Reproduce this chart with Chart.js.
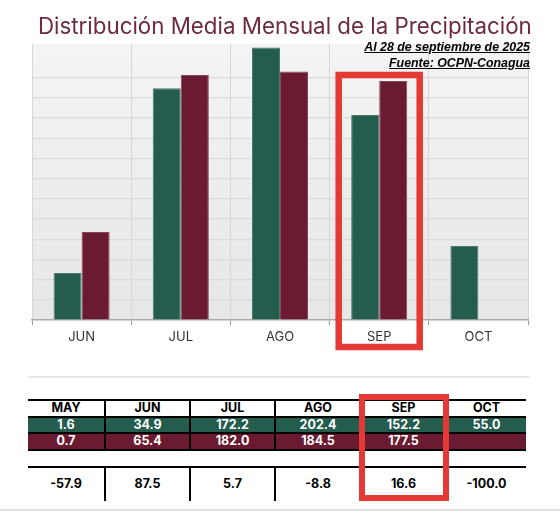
<!DOCTYPE html>
<html><head><meta charset="utf-8">
<script src="https://cdn.jsdelivr.net/npm/chart.js@4"></script>
<style>
html,body{margin:0;padding:0;background:#fff;}
body{width:560px;height:511px;position:relative;overflow:hidden;font-family:Inter,'Noto Sans',sans-serif;}
#title{position:absolute;left:38px;top:15px;white-space:nowrap;color:#6d2a40;font-size:22px;line-height:1;z-index:2;}
.sub{position:absolute;right:30px;font-family:'Liberation Sans',sans-serif;font-weight:bold;font-style:italic;text-decoration:underline;font-size:12px;color:#000;white-space:nowrap;line-height:1;z-index:2;}
#chartBox{position:absolute;left:0;top:0;width:560px;height:360px;z-index:1;}
#sepline{position:absolute;left:28px;top:376px;width:502px;height:2px;background:#e6e6e6;}
#botline{position:absolute;left:0;top:509px;width:560px;height:2px;background:#e0e0e0;}
#tbl{position:absolute;left:28px;top:399px;border-collapse:collapse;table-layout:fixed;font-family:Inter,'Noto Sans',sans-serif;font-weight:bold;font-size:12.5px;text-align:center;}
#tbl td{padding:0;line-height:1;}
#redT{position:absolute;left:359px;top:394px;width:90px;height:107px;border:6px solid #e53935;box-sizing:border-box;}
</style></head>
<body>
<div id="title">Distribución Media Mensual de la Precipitación</div>
<div class="sub" id="s1" style="top:41px;">Al 28 de septiembre de 2025</div>
<div class="sub" id="s2" style="top:57px;">Fuente: OCPN-Conagua</div>
<div id="chartBox"><canvas id="c"></canvas></div>
<div id="sepline"></div>
<table id="tbl"></table>
<div id="redT"></div>
<div id="botline"></div>
<script>
// ---- data ----
const chartMonths = ['JUN','JUL','AGO','SEP','OCT'];
const seriesGreen = [34.9, 172.2, 202.4, 152.2, 55.0];
const seriesMaroon = [65.4, 182.0, 184.5, 177.5, null];
const tableMonths = ['MAY','JUN','JUL','AGO','SEP','OCT'];
const tableGreen = ['1.6','34.9','172.2','202.4','152.2','55.0'];
const tableMaroon = ['0.7','65.4','182.0','184.5','177.5',''];
const tableDiff = ['-57.9','87.5','5.7','-8.8','16.6','-100.0'];
const highlightMonth = 'SEP';

const GREEN = '#245c4e', MAROON = '#6a1b31';

// fit title width
(function(){
  const t = document.getElementById('title');
  const w = t.getBoundingClientRect().width;
  t.style.fontSize = (22 * 494 / w) + 'px';
  const s1 = document.getElementById('s1');
  const w1 = s1.getBoundingClientRect().width;
  const fs = 12 * 166 / w1;
  s1.style.fontSize = fs + 'px';
  document.getElementById('s2').style.fontSize = fs + 'px';
})();

// table
(function(){
  const tbl = document.getElementById('tbl');
  const widths = [77,85,85,86,85,80];
  let html = '<colgroup>' + widths.map(w=>'<col style="width:'+w+'px">').join('') + '</colgroup>';
  const row = (vals, h, bg, color, vb, extra) => '<tr style="height:'+h+'px;background:'+bg+';color:'+color+';'+extra+'">' +
    vals.map((v,i)=>'<td style="height:'+h+'px;'+(vb && i>0 ? 'border-left:2px solid #000;' : '')+'">'+(v===''?'&nbsp;':v)+'</td>').join('') + '</tr>';
  html += row(tableMonths, 15, '#fff', '#000', true, 'border-top:2px solid #000;border-bottom:2px solid #000;');
  html += row(tableGreen, 14, GREEN, '#fff', true, 'border-bottom:2px solid #000;');
  html += row(tableMaroon, 15, MAROON, '#fff', true, 'border-bottom:2px solid #000;');
  html += row(tableMonths.map(()=>''), 15, '#fff', '#000', false, 'border-bottom:2.5px solid #000;');
  html += row(tableDiff, 33, '#fff', '#000', true, '');
  tbl.innerHTML = html;
})();

const bgPlugin = {
  id: 'bg',
  beforeDraw(chart){
    const {ctx, chartArea:a} = chart;
    const g = ctx.createLinearGradient(0, a.top, 0, a.bottom);
    g.addColorStop(0, '#f4f4f4');
    g.addColorStop(1, '#e7e7e7');
    ctx.save();
    ctx.fillStyle = g;
    ctx.fillRect(a.left, a.top, a.right - a.left, a.bottom - a.top);
    ctx.restore();
  },
  afterDraw(chart){
    const {ctx, chartArea:a} = chart;
    const xs = chart.scales.x;
    const cx = xs.getPixelForValue(chartMonths.indexOf(highlightMonth));
    ctx.save();
    ctx.strokeStyle = '#e53935';
    ctx.lineWidth = 6.5;
    ctx.strokeRect(cx - 40.5, a.top + 31, 81, 272);
    ctx.restore();
  }
};

Chart.defaults.font.family = "Inter, 'Noto Sans', sans-serif";
new Chart(document.getElementById('c'), {
  type: 'bar',
  data: {
    labels: chartMonths,
    datasets: [
      {data: seriesGreen, backgroundColor: GREEN, borderColor: '#4a7a6d', borderWidth: 1},
      {data: seriesMaroon, backgroundColor: MAROON, borderColor: '#85465a', borderWidth: 1}
    ]
  },
  options: {
    responsive: true, maintainAspectRatio: false, animation: false,
    layout: {padding: {left: 32, right: 32, top: 44, bottom: 0}},
    datasets: {bar: {categoryPercentage: 0.565, barPercentage: 1.0}},
    plugins: {legend: {display: false}, tooltip: {enabled: false}, title: {display: false}},
    scales: {
      x: {
        afterFit(s){ s.height = 40; },
        grid: {color: '#d6d6d6', tickLength: 5, offset: true, tickColor: '#999'},
        border: {color: '#aaa', width: 1.5},
        ticks: {color: '#333', font: {size: 13}, padding: 4}
      },
      y: {
        min: 0, max: 205,
        ticks: {display: false, stepSize: 15},
        grid: {color: (c) => (c.tick && c.tick.value % 15 === 0 && c.tick.value > 0) ? '#dadada' : 'transparent', drawTicks: false, lineWidth: 1.2},
        border: {display: false}
      }
    }
  },
  plugins: [bgPlugin]
});
</script>
</body></html>
